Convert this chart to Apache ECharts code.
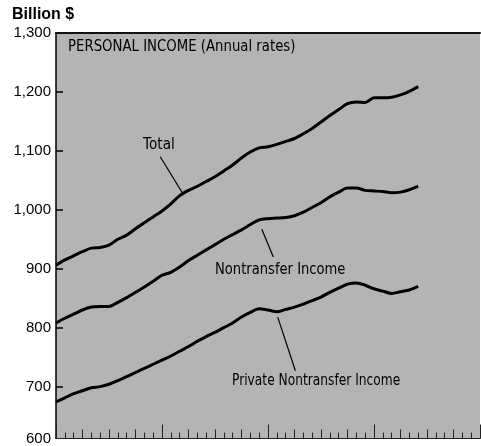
<!DOCTYPE html>
<html>
<head>
<meta charset="utf-8">
<script src="https://cdn.jsdelivr.net/npm/echarts@6/dist/echarts.min.js"></script>
<style>
html,body{margin:0;padding:0;background:#fff;}
#chart{width:481px;height:446px;}
</style>
</head>
<body>
<div id="chart"></div>
<script>
// Months since start of chart (0..41)
const months = [0,1,2,3,4,5,6,7,8,9,10,11,12,13,14,15,16,17,18,19,20,21,22,23,24,25,26,27,28,29,30,31,32,33,34,35,36,37,38,39,40,41];
const total = [906,915,922,929,935,936,940,950,957,968,978,988,998,1010,1024,1033,1040,1048,1056,1066,1076,1088,1098,1105,1107,1111,1116,1121,1129,1138,1149,1160,1170,1180,1183,1182,1190,1190,1191,1195,1201,1209];
const nontransfer = [808,816,823,830,835,836,836,843,851,860,869,879,889,894,903,914,923,932,941,950,958,966,975,983,985,986,987,990,996,1004,1012,1022,1030,1037,1037,1033,1032,1031,1029,1030,1034,1040];
const privateNontransfer = [674,681,688,693,698,700,704,710,717,724,731,738,745,752,760,768,777,785,792,800,808,818,826,832,830,827,831,835,840,846,852,860,867,874,876,872,866,862,858,861,864,870];
// y-axis tick positions and their printed labels (bottom of scale is broken: labelled 600)
const yTickValues = [612,700,800,900,1000,1100,1200,1300];
const yTickLabels = ['600','700','800','900','1,000','1,100','1,200','1,300'];

const pair = (xs, ys) => xs.map((x, i) => [x, ys[i]]);
const cond = '16px "DejaVu Sans", sans-serif';

const chart = echarts.init(document.getElementById('chart'), null, {renderer: 'canvas'});
const lineStyle = {color: '#000', width: 3};
function arrow(from, to) {
  return {
    silent: true,
    symbol: ['none', 'arrow'],
    symbolSize: [0, 6],
    lineStyle: {color: '#000', width: 1.2, type: 'solid'},
    label: {show: false},
    data: [[{coord: from}, {coord: to}]]
  };
}
function label(text, x, y, sx) {
  return {type: 'text', x: x, y: y, scaleX: sx, style: {text: text, fill: '#000', font: cond, textVerticalAlign: 'middle'}};
}
chart.setOption({
  animation: false,
  grid: {left: 56, right: 1, top: 33, bottom: 6, show: true, backgroundColor: '#b4b4b4', borderWidth: 0},
  xAxis: [{
    type: 'value', min: 0, max: 48, interval: 12,
    axisLine: {show: true, lineStyle: {color: '#222', width: 1}},
    axisTick: {show: true, inside: true, length: 14, lineStyle: {color: '#222', width: 1}},
    minorTick: {show: true, splitNumber: 12, length: 6, lineStyle: {color: '#222', width: 1}},
    axisLabel: {show: false}, splitLine: {show: false}
  }, {
    type: 'value', min: 0, max: 48, interval: 3, position: 'bottom',
    axisLine: {show: false},
    axisTick: {show: true, inside: true, length: 9, lineStyle: {color: '#222', width: 1}},
    axisLabel: {show: false}, splitLine: {show: false}
  }, {
    type: 'value', min: 0, max: 48, position: 'top',
    axisLine: {show: true, lineStyle: {color: '#111', width: 2}},
    axisTick: {show: false}, axisLabel: {show: false}, splitLine: {show: false}
  }],
  yAxis: {
    type: 'value', min: 612, max: 1300,
    axisLine: {show: true, lineStyle: {color: '#000', width: 1.5}},
    axisTick: {show: true, inside: true, length: 7, customValues: [700,800,900,1000,1100,1200], lineStyle: {color: '#000', width: 1.5}},
    axisLabel: {
      show: true, customValues: yTickValues, margin: 5,
      color: '#000', fontSize: 15, fontFamily: '"Liberation Sans", Arial, sans-serif',
      formatter: v => yTickLabels[yTickValues.indexOf(v)]
    },
    splitLine: {show: false}
  },
  series: [
    {type: 'line', name: 'Total', data: pair(months, total), showSymbol: false, smooth: 0.3, lineStyle, markLine: arrow([11.8, 1090], [14.3, 1029])},
    {type: 'line', name: 'Nontransfer Income', data: pair(months, nontransfer), showSymbol: false, smooth: 0.3, lineStyle, markLine: arrow([24.6, 920], [23.3, 967])},
    {type: 'line', name: 'Private Nontransfer Income', data: pair(months, privateNontransfer), showSymbol: false, smooth: 0.3, lineStyle, markLine: arrow([27.1, 727], [25.1, 818])}
  ],
  graphic: [
    {type: 'text', x: 12, y: 15, style: {text: 'Billion $', fill: '#000', font: 'bold 16px "Liberation Sans", Arial, sans-serif', textVerticalAlign: 'middle'}},
    label('PERSONAL INCOME (Annual rates)', 68, 47, 0.83),
    label('Total', 143, 145, 0.85),
    label('Nontransfer Income', 215, 270, 0.82),
    label('Private Nontransfer Income', 232, 381, 0.765)
  ]
});
</script>
</body>
</html>
